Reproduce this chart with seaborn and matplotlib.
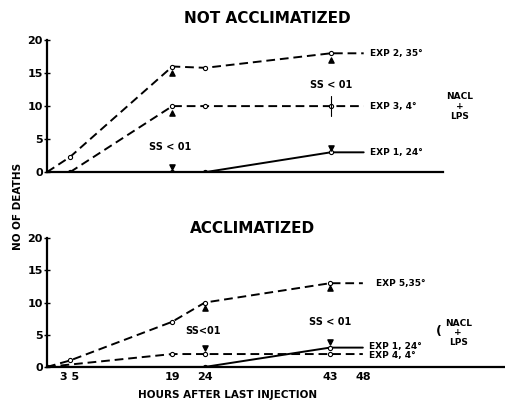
import matplotlib
matplotlib.use("Agg")
from matplotlib import pyplot as plt
import seaborn as sns

# not acclimatized panel
top_hours_exp2 = [0, 3.5, 19, 24, 43, 48]
top_deaths_exp2 = [0, 2.3, 16, 15.8, 18, 18]
top_hours_exp3 = [3.5, 19, 24, 43, 48]
top_deaths_exp3 = [0, 10, 10, 10, 10]
top_hours_exp1 = [0, 19, 24, 43, 48]
top_deaths_exp1 = [0, 0, 0, 3, 3]

# acclimatized panel
bot_hours_exp5 = [0, 3.5, 19, 24, 43, 48]
bot_deaths_exp5 = [0, 1, 7, 10, 13, 13]
bot_hours_exp4 = [0, 19, 24, 43, 48]
bot_deaths_exp4 = [0, 2, 2, 2, 2]
bot_hours_exp1 = [0, 24, 43, 48]
bot_deaths_exp1 = [0, 0, 3, 3]

# error marks (hour, value, up/down)
top_err_up_x = [19, 19, 43]
top_err_up_y = [15, 9, 17]
top_err_dn_x = [19, 43]
top_err_dn_y = [0.8, 3.7]
bot_err_up_x = [24, 43]
bot_err_up_y = [9.2, 12.2]
bot_err_dn_x = [24, 43]
bot_err_dn_y = [2.9, 3.9]

xtick_pos = [3.5, 19, 24, 43, 48]
xtick_labels = ["3 5", "19", "24", "43", "48"]
ytick_pos = [0, 5, 10, 15, 20]

sns.set_style("ticks")
plt.rcParams['font.family'] = ['DejaVu Sans']
plt.rcParams['font.weight'] = 'bold'
plt.rcParams['text.color'] = 'black'
plt.rcParams['xtick.color'] = 'black'
plt.rcParams['ytick.color'] = 'black'
plt.rcParams['axes.edgecolor'] = 'black'

fig = plt.figure(figsize=(5.05, 4.05), dpi=100)
ax1 = fig.add_axes([0.093, 0.575, 0.784, 0.326])
ax2 = fig.add_axes([0.093, 0.094, 0.907, 0.318])


def draw_series(ax, x, y, dashed):
    # no marker on the last point, the line just runs out to the label
    sns.lineplot(x=x, y=y, ax=ax, color='black', lw=1.4,
                 linestyle=(0, (4.5, 2.5)) if dashed else '-',
                 marker='o', markersize=3, markerfacecolor='white',
                 markeredgecolor='black', markeredgewidth=0.8,
                 markevery=list(range(len(x) - 1)))


def style_axis(ax, xmax):
    ax.set_xlim(0, xmax)
    ax.set_ylim(0, 20)
    ax.set_yticks(ytick_pos)
    ax.set_yticklabels([str(v) for v in ytick_pos], fontsize=8, fontweight='bold')
    for s in ['top', 'right']:
        ax.spines[s].set_visible(False)
    ax.spines['left'].set_linewidth(1.6)
    ax.spines['bottom'].set_linewidth(1.6)
    ax.tick_params(axis='y', direction='inout', length=4, width=1, pad=1)
    ax.set_xlabel('')
    ax.set_ylabel('')


draw_series(ax1, top_hours_exp2, top_deaths_exp2, True)
draw_series(ax1, top_hours_exp3, top_deaths_exp3, True)
draw_series(ax1, top_hours_exp1, top_deaths_exp1, False)
ax1.scatter(top_err_up_x, top_err_up_y, marker='^', s=14, color='black', zorder=5)
ax1.scatter(top_err_dn_x, top_err_dn_y, marker='v', s=14, color='black', zorder=5)
ax1.plot([43, 43], [8.5, 11.5], color='black', lw=0.8)
style_axis(ax1, 60)
ax1.set_xticks([])

draw_series(ax2, bot_hours_exp5, bot_deaths_exp5, True)
draw_series(ax2, bot_hours_exp4, bot_deaths_exp4, True)
draw_series(ax2, bot_hours_exp1, bot_deaths_exp1, False)
ax2.scatter(bot_err_up_x, bot_err_up_y, marker='^', s=14, color='black', zorder=5)
ax2.scatter(bot_err_dn_x, bot_err_dn_y, marker='v', s=14, color='black', zorder=5)
style_axis(ax2, 69.6)
ax2.set_xticks(xtick_pos)
ax2.set_xticklabels(xtick_labels, fontsize=8, fontweight='bold')
ax2.tick_params(axis='x', length=0, pad=4)

lab = dict(fontsize=6.5, fontweight='bold', va='center', ha='left')
ax1.text(49, 18, "EXP 2, 35°", **lab)
ax1.text(49, 10, "EXP 3, 4°", **lab)
ax1.text(49, 3, "EXP 1, 24°", **lab)
ax1.text(18.7, 3.8, "SS < 01", fontsize=7, fontweight='bold', ha='center', va='center')
ax1.text(43, 13.2, "SS < 01", fontsize=7, fontweight='bold', ha='center', va='center')
ax1.text(62.5, 11.5, "NACL", fontsize=6.5, fontweight='bold', ha='center', va='center', clip_on=False)
ax1.text(62.5, 10, "+", fontsize=6.5, fontweight='bold', ha='center', va='center', clip_on=False)
ax1.text(62.5, 8.5, "LPS", fontsize=6.5, fontweight='bold', ha='center', va='center', clip_on=False)

ax2.text(50, 13, "EXP 5,35°", **lab)
ax2.text(49, 3.2, "EXP 1, 24°", **lab)
ax2.text(49, 1.7, "EXP 4, 4°", **lab)
ax2.text(23.7, 5.6, "SS<01", fontsize=7, fontweight='bold', ha='center', va='center')
ax2.text(43, 7, "SS < 01", fontsize=7, fontweight='bold', ha='center', va='center')
ax2.text(62.5, 6.8, "NACL", fontsize=6.5, fontweight='bold', ha='center', va='center')
ax2.text(62.5, 5.3, "+", fontsize=6.5, fontweight='bold', ha='center', va='center')
ax2.text(62.5, 3.8, "LPS", fontsize=6.5, fontweight='bold', ha='center', va='center')
ax2.text(59.5, 5.5, "(", fontsize=9, ha='center', va='center')

fig.text(0.53, 0.955, "NOT ACCLIMATIZED", fontsize=11, fontweight='bold', ha='center', va='center')
fig.text(0.50, 0.435, "ACCLIMATIZED", fontsize=11, fontweight='bold', ha='center', va='center')
fig.text(0.036, 0.49, "NO OF DEATHS", fontsize=7.5, fontweight='bold', rotation=90, ha='center', va='center')
fig.text(0.45, 0.025, "HOURS AFTER LAST INJECTION", fontsize=7.5, fontweight='bold', ha='center', va='center')

fig.savefig("out.png", dpi=100)
